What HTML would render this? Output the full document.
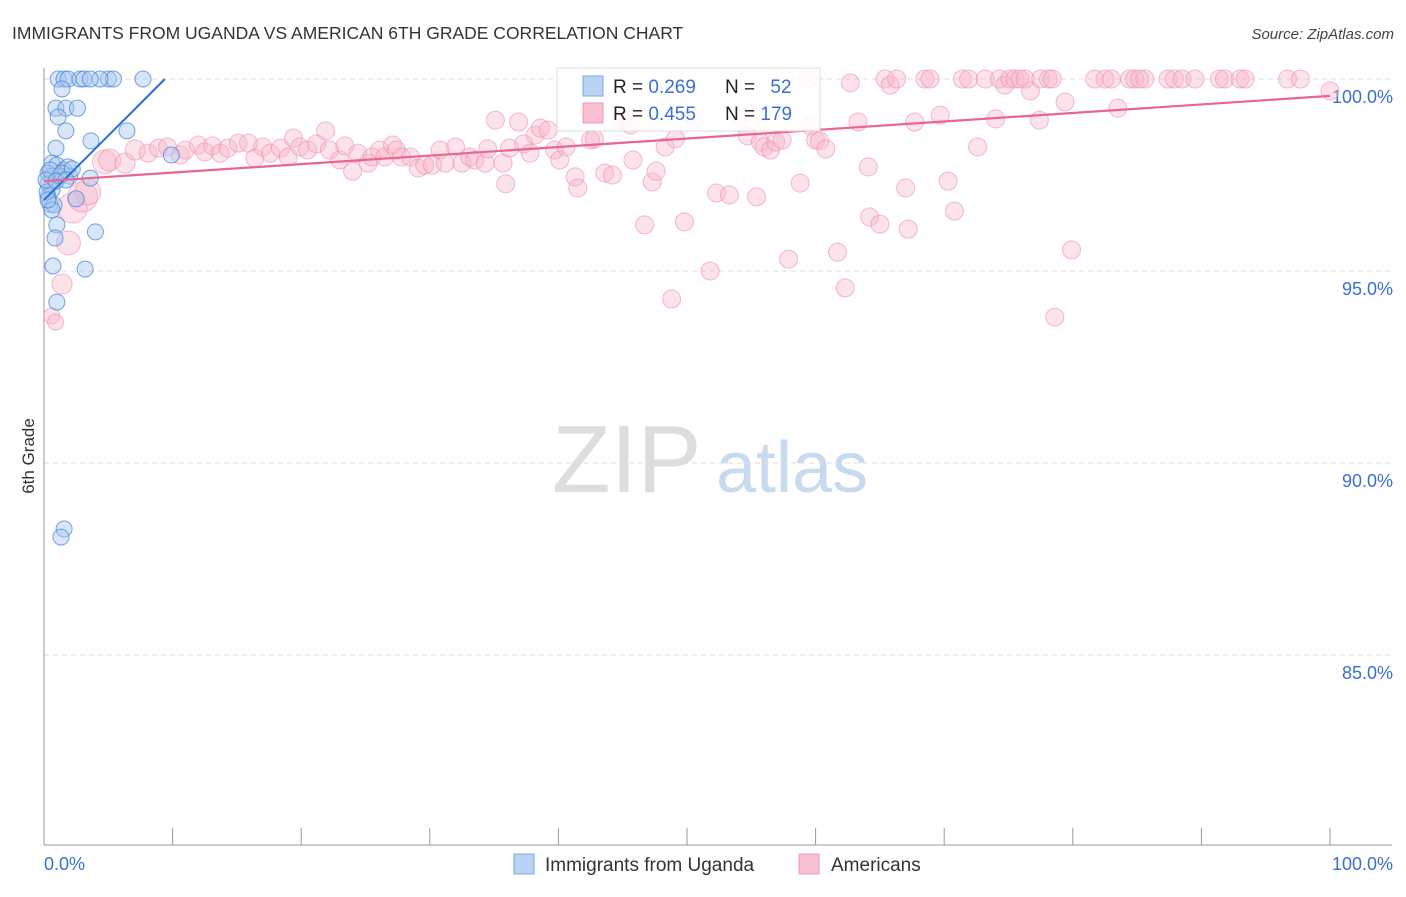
<!DOCTYPE html>
<html><head><meta charset="utf-8"><style>
body{margin:0;background:#fff;font-family:"Liberation Sans",sans-serif;}
svg text{font-family:"Liberation Sans",sans-serif;}
</style></head><body>
<svg id="chart" width="1406" height="892" xmlns="http://www.w3.org/2000/svg">
<text x="12" y="39" font-size="17.5" fill="#333">IMMIGRANTS FROM UGANDA VS AMERICAN 6TH GRADE CORRELATION CHART</text>
<text x="1394" y="39" font-size="15" fill="#444" font-style="italic" text-anchor="end">Source: ZipAtlas.com</text>
<g>
<text x="552" y="492" font-size="96" fill="#ddd" font-family="Liberation Serif,serif">ZIP</text>
<text x="716" y="492" font-size="72" fill="#c8daf0">atlas</text>
</g>
<g id="grid"></g>
<g id="axes"></g>
<g id="pts"></g>
<g id="lines"></g>
<text transform="translate(34,456) rotate(-90)" font-size="17" fill="#333" text-anchor="middle">6th Grade</text>
<g>
<rect x="557" y="68" width="263" height="63" fill="#fff" fill-opacity="0.85" stroke="#ddd"/>
<rect x="583" y="76" width="20" height="20" fill="#b9d3f5" stroke="#7aa7e0"/>
<rect x="583" y="103" width="20" height="20" fill="#f8c0d0" stroke="#ec9ab3"/>
<text x="613" y="93" font-size="19" fill="#222">R = <tspan fill="#3a6fd0">0.269</tspan></text>
<text x="725" y="93" font-size="19" fill="#222">N = <tspan fill="#3a6fd0" dx="10">52</tspan></text>
<text x="613" y="120" font-size="19" fill="#222">R = <tspan fill="#3a6fd0">0.455</tspan></text>
<text x="725" y="120" font-size="19" fill="#222">N = <tspan fill="#3a6fd0">179</tspan></text>
</g>
<g>
<rect x="514" y="854" width="20" height="20" fill="#b9d3f5" stroke="#7aa7e0"/>
<text x="545" y="871" font-size="19" fill="#333">Immigrants from Uganda</text>
<rect x="799" y="854" width="20" height="20" fill="#f8c0d0" stroke="#ec9ab3"/>
<text x="831" y="871" font-size="19" fill="#333">Americans</text>
</g>
</svg>
<script>
const yTicks=[100,95,90,85];
const yTickLabels=["100.0%","95.0%","90.0%","85.0%"];
const blueX=[1.1,1.56,1.87,2.8,3.1,5.0,5.4,7.7,4.35,3.6,1.4,0.93,1.7,2.6,1.1,1.7,0.93,3.65,6.45,0.62,1.0,1.56,1.87,0.31,0.62,1.24,2.0,0.31,0.62,0.31,0.47,0.78,0.62,1.0,0.86,4.0,3.2,0.7,1.0,1.56,1.32,2.5,3.6,9.9,0.47,0.23,1.4,2.2,0.16,0.31,0.93,1.7];
const blueY=[100,100,100,100,100,100,100,100,100,100,99.74,99.24,99.24,99.24,99.01,98.65,98.2,98.39,98.65,97.81,97.76,97.63,97.71,97.55,97.47,97.47,97.47,97.27,97.11,96.93,96.74,96.72,96.59,96.2,95.86,96.02,95.05,95.13,94.19,88.28,88.07,96.88,97.42,98.02,97.63,97.06,97.55,97.66,97.37,96.85,97.34,97.37];
const pinkX=[0.6,0.9,1.4,1.9,2.2,3.0,3.4,4.7,5.1,6.3,7.1,8.1,8.9,9.6,10.6,11.0,12.0,12.5,13.1,13.7,14.3,15.1,15.9,16.4,17.0,17.6,18.4,19.0,19.4,19.9,20.5,21.2,21.9,22.2,23.0,23.4,24.0,24.4,25.2,25.5,26.1,26.5,27.1,27.4,27.8,28.5,29.1,29.6,30.2,30.8,31.2,32.0,32.5,33.1,33.5,34.3,34.5,35.1,35.7,35.9,36.2,36.9,37.3,37.8,38.2,38.6,39.2,39.7,40.1,40.6,41.3,41.5,42.5,42.8,43.6,44.2,44.9,45.6,45.8,46.7,47.3,47.6,48.3,48.8,49.1,49.8,50.6,51.8,52.3,53.3,54.1,54.7,55.4,55.7,56.0,56.5,56.9,57.4,57.9,58.8,59.4,59.6,60.0,60.3,60.8,61.7,62.3,62.7,63.3,64.1,64.2,65.0,65.4,65.8,66.3,67.0,67.2,67.7,68.5,68.9,69.7,70.3,70.8,71.4,71.9,72.6,73.2,74.0,74.3,74.7,75.1,75.5,75.9,76.3,76.7,77.5,78.1,77.4,78.6,79.4,79.9,81.7,82.5,83.0,83.5,84.4,84.8,85.6,87.4,87.9,88.5,89.5,91.4,91.8,93.0,93.4,96.7,97.7,100,78.4,85.2];
const pinkY=[93.83,93.67,94.66,95.73,96.64,96.93,97.06,97.84,97.89,97.81,98.15,98.07,98.2,98.23,98.02,98.15,98.28,98.1,98.26,98.07,98.2,98.33,98.33,97.94,98.23,98.07,98.2,97.97,98.46,98.23,98.15,98.31,98.65,98.15,97.89,98.26,97.6,98.07,97.81,97.97,98.15,97.97,98.28,98.15,97.97,97.97,97.68,97.76,97.76,98.15,97.81,98.23,97.81,97.97,97.89,97.81,98.18,98.93,97.81,97.27,98.2,98.88,98.31,98.07,98.54,98.72,98.67,98.15,97.89,98.23,97.45,97.16,98.41,98.44,97.55,97.5,98.93,98.8,97.89,96.2,97.32,97.6,98.23,94.27,98.44,96.28,98.98,95.0,97.03,96.98,98.98,98.52,96.93,98.36,98.23,98.15,98.36,98.41,95.31,97.29,100,98.78,98.41,98.39,98.18,95.49,94.56,99.9,98.88,97.71,96.41,96.22,100,99.84,100,97.16,96.09,98.88,100,100,99.06,97.34,96.56,100,100,98.23,100,98.96,100,99.84,100,100,100,100,99.69,100,100,98.93,93.8,99.4,95.55,100,100,100,99.24,100,100,100,100,100,100,100,100,100,100,100,100,100,99.69,100,100];
const pinkWeight=[8,8,10,12,15,15,13,12,11,10,10];
const blueTrend=[[0,96.85],[9.4,100]];
const pinkTrend=[[0,97.34],[100,99.56]];
const NS="http://www.w3.org/2000/svg";
const xS=v=>44+v*12.86;
const yS=v=>79+(100-v)*38.4;
function mk(tag,attrs,parent){const e=document.createElementNS(NS,tag);for(const k in attrs)e.setAttribute(k,attrs[k]);parent.appendChild(e);return e;}
const grid=document.getElementById('grid'),axes=document.getElementById('axes'),pts=document.getElementById('pts'),lines=document.getElementById('lines');
yTicks.forEach((t,i)=>{
 const g=mk('line',{x1:44,x2:1392,y1:yS(t),y2:yS(t),stroke:'#ddd','stroke-dasharray':'5,4'},grid);
 
 
 const l=mk('text',{x:1393,y:yS(t)+24,'font-size':18,fill:'#3a6fd0','text-anchor':'end'},axes);
 l.textContent=yTickLabels[i];
 
 
});
const ya=mk('line',{x1:44,x2:44,y1:68,y2:845,stroke:'#999'},axes);


const xa=mk('line',{x1:44,x2:1392,y1:845,y2:845,stroke:'#999'},axes);


for(let i=0;i<=10;i++){
 const t=mk('line',{x1:xS(i*10),x2:xS(i*10),y1:828,y2:845,stroke:'#999'},axes);
 
 
}
const x0=mk('text',{x:44,y:870,'font-size':18,fill:'#3a6fd0'},axes);x0.textContent='0.0%';


const x1=mk('text',{x:1393,y:870,'font-size':18,fill:'#3a6fd0','text-anchor':'end'},axes);x1.textContent='100.0%';


pinkX.forEach((x,i)=>{
 const c=mk('circle',{cx:xS(x),cy:yS(pinkY[i]),r:pinkWeight[i]||9,fill:'#f7b6c9','fill-opacity':0.4,stroke:'#ec8fad','stroke-opacity':0.6,'stroke-width':1},pts);
 
 
});
blueX.forEach((x,i)=>{
 const c=mk('circle',{cx:xS(x),cy:yS(blueY[i]),r:8,fill:'#a9c8f0','fill-opacity':0.45,stroke:'#3f7fd6','stroke-opacity':0.7,'stroke-width':1},pts);
 
 
});
const bl=mk('line',{x1:xS(blueTrend[0][0]),y1:yS(blueTrend[0][1]),x2:xS(blueTrend[1][0]),y2:yS(blueTrend[1][1]),stroke:'#2a6fd6','stroke-width':2},lines);


const pl=mk('line',{x1:xS(pinkTrend[0][0]),y1:yS(pinkTrend[0][1]),x2:xS(pinkTrend[1][0]),y2:yS(pinkTrend[1][1]),stroke:'#e8668f','stroke-width':2.2},lines);


</script>
</body></html>
